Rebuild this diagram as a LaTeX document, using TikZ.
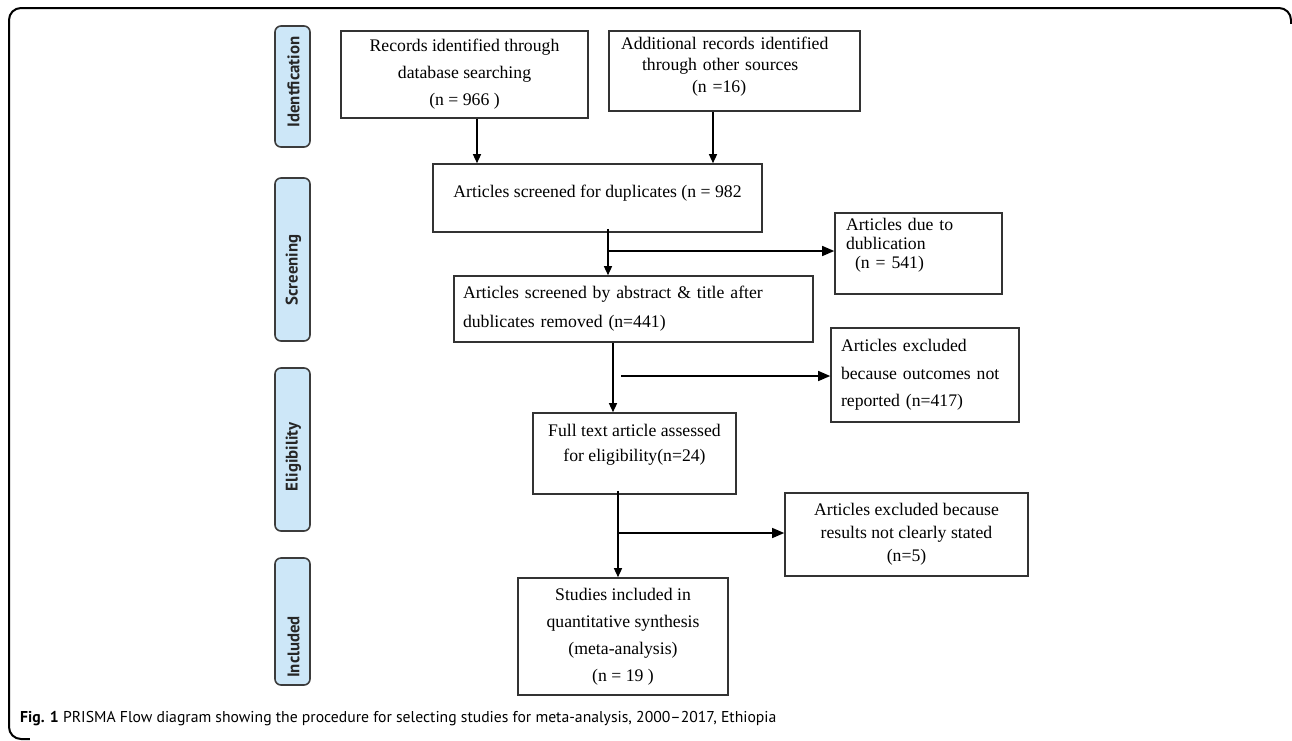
\documentclass[tikz,border=0pt]{standalone}
\usepackage{fontspec}
\setmainfont{Liberation Serif}
\newfontfamily\capfont{PT Sans}
\usetikzlibrary{arrows.meta,calc}
\definecolor{stageblue}{HTML}{CDE7F8}
\definecolor{stageedge}{HTML}{3C3C3C}
\definecolor{boxedge}{HTML}{333333}
\newcommand\dn[1]{\rule[-#1]{0pt}{#1}}
\tikzset{
  flowbox/.style={draw=boxedge, line width=1.6pt, fill=white, inner sep=0pt,
    font=\fontsize{17.7}{27}\selectfont},
  stagebox/.style={draw=stageedge, line width=1.6pt, fill=stageblue,
    rounded corners=6pt, minimum width=35pt, inner sep=0pt},
  stagetext/.style={rotate=90, font=\capfont\bfseries\fontsize{16.8}{18}\selectfont, text=black!85},
  varr/.style={line width=1.3pt, -{Triangle[length=9pt,width=8pt]}},
  harr/.style={line width=1.3pt, -{Triangle[length=12pt,width=10pt]}},
  plain/.style={line width=1.3pt}
}
\begin{document}
\begin{tikzpicture}[x=1pt,y=-1pt]
\useasboundingbox (0,0) rectangle (1292,740);
% outer frame
\draw[line width=2pt, rounded corners=12pt] (30,739) -- (9,739) -- (9,8) -- (1291,8) -- (1291,30);
\fill[white] (30,736) rectangle (1292,741);
\fill[white] (1292,24) rectangle (1289,741);

% stage labels
\node[stagebox, minimum height=121pt] (sid) at (292.5,86.5) {};
\node[stagetext] (tid) at (293.5,82) {Identfication};
\node[stagebox, minimum height=163pt] (ssc) at (292.5,259.5) {};
\node[stagetext] (tsc) at (293.5,270) {Screening};
\node[stagebox, minimum height=163pt] (sel) at (292.5,449.5) {};
\node[stagetext] (tel) at (293.5,457) {Eligibility};
\node[stagebox, minimum height=127pt] (sin) at (292.5,621.5) {};
\node[stagetext] (tin) at (293.5,647) {Included};

% boxes
\node[flowbox, minimum width=247pt, minimum height=87pt, align=center] (A) at (464.5,74.5)
  {Records identified through\\database searching\\(n = 966 )};
\node[flowbox, minimum height=80pt, text width=227pt, inner xsep=12pt, align=left,
  font=\fontsize{17.7}{21.5}\selectfont] (B) at (734.5,71)
  {Additional records identified\\\hspace*{21pt}through other sources\\\hspace*{71pt}(n =16)\dn{13.4pt}};
\node[flowbox, minimum width=329pt, minimum height=68pt, align=center] (C) at (597.5,198)
  {Articles screened for duplicates (n = 982\dn{14.4pt}};
\node[flowbox, minimum height=81pt, text width=145pt, inner xsep=11pt, align=left,
  font=\fontsize{17.7}{19}\selectfont] (E) at (918.5,253.5)
  {Articles due to\\dublication\\\hspace*{9pt}(n = 541)\dn{19.4pt}};
\node[flowbox, minimum height=66pt, text width=341pt, inner xsep=9pt, align=left,
  font=\fontsize{17.7}{29}\selectfont] (D) at (633.5,309)
  {Articles screened by abstract \& title after\\dublicates removed (n=441)};
\node[flowbox, minimum height=94pt, text width=168pt, inner xsep=10pt, align=left,
  font=\fontsize{17.7}{27.5}\selectfont] (G) at (925,375)
  {Articles excluded\\because outcomes not\\reported (n=417)};
\node[flowbox, minimum width=203pt, minimum height=81pt, align=center,
  font=\fontsize{17.7}{25}\selectfont] (F) at (634.5,453.5)
  {Full text article assessed\\for eligibility(n=24)\dn{20.4pt}};
\node[flowbox, minimum width=243pt, minimum height=83pt, align=center,
  font=\fontsize{17.7}{23}\selectfont] (I) at (906.5,534.5)
  {Articles excluded because\\results not clearly stated\\(n=5)};
\node[flowbox, minimum width=210pt, minimum height=117pt, align=center] (H) at (623,636.5)
  {Studies included in\\quantitative synthesis\\(meta-analysis)\\(n = 19 )};

% connectors
\draw[varr] ([xshift=12.5pt]A.south) -- ([xshift=12.5pt]A.south |- C.north);
\draw[varr] ([xshift=-21.5pt]B.south) -- ([xshift=-21.5pt]B.south |- C.north);

\coordinate (c0) at ([xshift=10.5pt,yshift=4pt]C.south);
\coordinate (c1) at (c0 |- 0,251);
\draw[varr] (c0) -- (c0 |- D.north);
\draw[harr] (c1) -- (c1 -| E.west);

\coordinate (d0) at ([xshift=-20.5pt]D.south);
\coordinate (d1) at (621,376);
\draw[varr] (d0) -- (d0 |- F.north);
\draw[harr] (d1) -- (d1 -| G.west);

\coordinate (f0) at ([xshift=-16.5pt,yshift=4pt]F.south);
\coordinate (f1) at (f0 |- 0,533);
\draw[varr] (f0) -- (f0 |- H.north);
\draw[harr] (f1) -- (f1 -| I.west);

% caption
\node[anchor=base west, inner sep=0pt, font=\capfont\fontsize{15.7}{18}\selectfont] (cap) at (20,722)
  {\textbf{Fig. 1} PRISMA Flow diagram showing the procedure for selecting studies for meta-analysis, 2000–2017, Ethiopia};
\end{tikzpicture}
\end{document}
